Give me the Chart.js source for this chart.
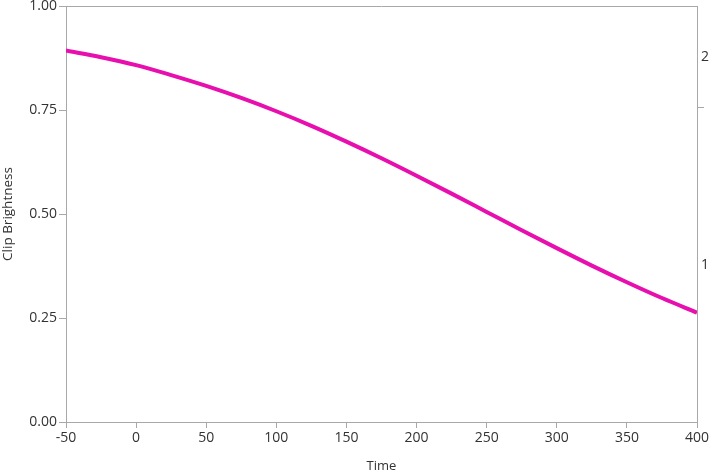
<!DOCTYPE html>
<html>
<head>
<meta charset="utf-8">
<script src="https://cdn.jsdelivr.net/npm/chart.js@4.4.1/dist/chart.umd.min.js"></script>
<style>
  html, body { margin: 0; padding: 0; background: #ffffff; }
  #c { display: block; }
</style>
</head>
<body>
<canvas id="c" width="709" height="476"></canvas>
<script>
// ---- data ----
const times = [-50, -25, 0, 25, 50, 75, 100, 125, 150, 175, 200, 225, 250, 275, 300, 325, 350, 375, 400];
const brightness = [0.893, 0.877, 0.858, 0.834, 0.808, 0.779, 0.747, 0.712, 0.674, 0.634, 0.592, 0.549, 0.505, 0.461, 0.418, 0.376, 0.336, 0.298, 0.263];
const xTickValues = [-50, 0, 50, 100, 150, 200, 250, 300, 350, 400];
const yTickValues = [0, 0.25, 0.5, 0.75, 1];
const rightLabels = ['1', '2'];
const rightLabelValues = [0.377, 0.877];
const rightDividerValues = [0.755];

const FONT = "'Segoe UI', 'Open Sans', sans-serif";
const AXIS = '#a8a8a8';
const TEXT = '#333333';
const FS = 14;

const boxPlugin = {
  id: 'box',
  afterDraw(chart) {
    const a = chart.chartArea, ctx = chart.ctx;
    ctx.save();
    ctx.strokeStyle = AXIS;
    ctx.lineWidth = 1;
    ctx.beginPath();
    ctx.moveTo(a.left, a.top + 0.5);
    ctx.lineTo(a.right, a.top + 0.5);
    ctx.stroke();
    ctx.restore();
  }
};

new Chart(document.getElementById('c'), {
  type: 'line',
  data: {
    datasets: [{
      data: times.map((t, i) => ({ x: t, y: brightness[i] })),
      borderColor: '#E80FAF',
      borderWidth: 4,
      pointRadius: 0,
      cubicInterpolationMode: 'monotone',
      fill: false
    }]
  },
  options: {
    responsive: false,
    devicePixelRatio: 1,
    animation: false,
    layout: { padding: { top: 6, left: 0, right: 0, bottom: 0 } },
    plugins: { legend: { display: false }, tooltip: { enabled: false } },
    scales: {
      x: {
        type: 'linear',
        position: 'bottom',
        min: -50, max: 400,
        afterBuildTicks: s => { s.ticks = xTickValues.map(v => ({ value: v })); },
        afterFit: s => { s.height = 54; s.paddingLeft = 0; s.paddingRight = 0; },
        grid: { drawOnChartArea: false, tickLength: 6, color: AXIS },
        border: { color: AXIS },
        ticks: { font: { family: FONT, size: FS, lineHeight: 1.1 }, color: TEXT, padding: 2, maxRotation: 0, autoSkip: false },
        title: { display: true, text: 'Time', font: { family: FONT, size: 13 }, color: TEXT, padding: { top: 0, bottom: 2 } }
      },
      y: {
        type: 'linear',
        position: 'left',
        min: 0, max: 1,
        afterBuildTicks: s => { s.ticks = yTickValues.map(v => ({ value: v })); },
        afterFit: s => { s.width = 66; s.paddingTop = 0; s.paddingBottom = 0; },
        grid: { drawOnChartArea: false, tickLength: 7, color: AXIS },
        border: { color: AXIS },
        ticks: { font: { family: FONT, size: FS }, color: TEXT, padding: 2, callback: v => Number(v).toFixed(2) },
        title: { display: true, text: 'Clip Brightness', font: { family: FONT, size: 13.5 }, color: TEXT, padding: { top: 0, bottom: 0 } }
      },
      y2: {
        type: 'linear',
        position: 'right',
        min: 0, max: 1,
        afterBuildTicks: s => {
          const t = [];
          rightLabelValues.forEach((v, i) => t.push({ value: v, label: rightLabels[i] }));
          rightDividerValues.forEach(v => t.push({ value: v, label: '' }));
          t.sort((a, b) => a.value - b.value);
          s.ticks = t;
        },
        afterFit: s => { s.width = 12; s.paddingTop = 0; s.paddingBottom = 0; },
        grid: {
          drawOnChartArea: false, tickLength: 7,
          color: AXIS,
          tickColor: ctx => (ctx.tick && rightDividerValues.includes(ctx.tick.value)) ? AXIS : 'rgba(0,0,0,0)'
        },
        border: { color: AXIS },
        ticks: {
          font: { family: FONT, size: FS }, color: TEXT, padding: -3,
          callback: (v) => {
            const i = rightLabelValues.indexOf(v);
            return i >= 0 ? rightLabels[i] : '';
          }
        }
      }
    }
  },
  plugins: [boxPlugin]
});
</script>
</body>
</html>
